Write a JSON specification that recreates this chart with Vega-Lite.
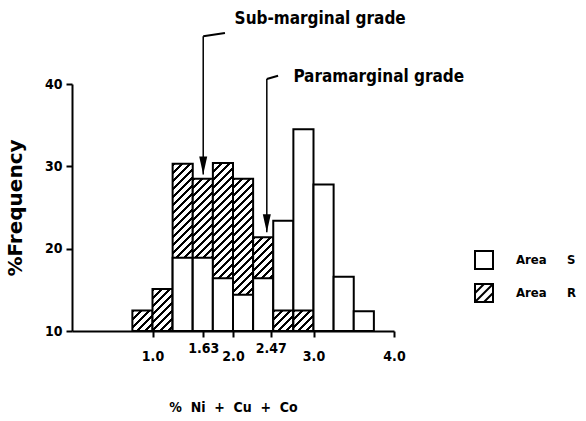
{
  "$schema": "https://vega.github.io/schema/vega-lite/v6.json",
  "width": 322,
  "height": 247,
  "autosize": {"type": "none"},
  "padding": {"left": 72, "top": 84, "right": 192, "bottom": 90},
  "background": "white",
  "params": [
    {
      "name": "hatchStops",
      "value": [
        {"offset": 0, "color": "#000"}, {"offset": 0.015, "color": "#000"}, {"offset": 0.015, "color": "#fff"}, {"offset": 0.04, "color": "#fff"},
        {"offset": 0.04, "color": "#000"}, {"offset": 0.055, "color": "#000"}, {"offset": 0.055, "color": "#fff"}, {"offset": 0.08, "color": "#fff"},
        {"offset": 0.08, "color": "#000"}, {"offset": 0.095, "color": "#000"}, {"offset": 0.095, "color": "#fff"}, {"offset": 0.12, "color": "#fff"},
        {"offset": 0.12, "color": "#000"}, {"offset": 0.135, "color": "#000"}, {"offset": 0.135, "color": "#fff"}, {"offset": 0.16, "color": "#fff"},
        {"offset": 0.16, "color": "#000"}, {"offset": 0.175, "color": "#000"}, {"offset": 0.175, "color": "#fff"}, {"offset": 0.2, "color": "#fff"},
        {"offset": 0.2, "color": "#000"}, {"offset": 0.215, "color": "#000"}, {"offset": 0.215, "color": "#fff"}, {"offset": 0.24, "color": "#fff"},
        {"offset": 0.24, "color": "#000"}, {"offset": 0.255, "color": "#000"}, {"offset": 0.255, "color": "#fff"}, {"offset": 0.28, "color": "#fff"},
        {"offset": 0.28, "color": "#000"}, {"offset": 0.295, "color": "#000"}, {"offset": 0.295, "color": "#fff"}, {"offset": 0.32, "color": "#fff"},
        {"offset": 0.32, "color": "#000"}, {"offset": 0.335, "color": "#000"}, {"offset": 0.335, "color": "#fff"}, {"offset": 0.36, "color": "#fff"},
        {"offset": 0.36, "color": "#000"}, {"offset": 0.375, "color": "#000"}, {"offset": 0.375, "color": "#fff"}, {"offset": 0.4, "color": "#fff"},
        {"offset": 0.4, "color": "#000"}, {"offset": 0.415, "color": "#000"}, {"offset": 0.415, "color": "#fff"}, {"offset": 0.44, "color": "#fff"},
        {"offset": 0.44, "color": "#000"}, {"offset": 0.455, "color": "#000"}, {"offset": 0.455, "color": "#fff"}, {"offset": 0.48, "color": "#fff"},
        {"offset": 0.48, "color": "#000"}, {"offset": 0.495, "color": "#000"}, {"offset": 0.495, "color": "#fff"}, {"offset": 0.52, "color": "#fff"},
        {"offset": 0.52, "color": "#000"}, {"offset": 0.535, "color": "#000"}, {"offset": 0.535, "color": "#fff"}, {"offset": 0.56, "color": "#fff"},
        {"offset": 0.56, "color": "#000"}, {"offset": 0.575, "color": "#000"}, {"offset": 0.575, "color": "#fff"}, {"offset": 0.6, "color": "#fff"},
        {"offset": 0.6, "color": "#000"}, {"offset": 0.615, "color": "#000"}, {"offset": 0.615, "color": "#fff"}, {"offset": 0.64, "color": "#fff"},
        {"offset": 0.64, "color": "#000"}, {"offset": 0.655, "color": "#000"}, {"offset": 0.655, "color": "#fff"}, {"offset": 0.68, "color": "#fff"},
        {"offset": 0.68, "color": "#000"}, {"offset": 0.695, "color": "#000"}, {"offset": 0.695, "color": "#fff"}, {"offset": 0.72, "color": "#fff"},
        {"offset": 0.72, "color": "#000"}, {"offset": 0.735, "color": "#000"}, {"offset": 0.735, "color": "#fff"}, {"offset": 0.76, "color": "#fff"},
        {"offset": 0.76, "color": "#000"}, {"offset": 0.775, "color": "#000"}, {"offset": 0.775, "color": "#fff"}, {"offset": 0.8, "color": "#fff"},
        {"offset": 0.8, "color": "#000"}, {"offset": 0.815, "color": "#000"}, {"offset": 0.815, "color": "#fff"}, {"offset": 0.84, "color": "#fff"},
        {"offset": 0.84, "color": "#000"}, {"offset": 0.855, "color": "#000"}, {"offset": 0.855, "color": "#fff"}, {"offset": 0.88, "color": "#fff"},
        {"offset": 0.88, "color": "#000"}, {"offset": 0.895, "color": "#000"}, {"offset": 0.895, "color": "#fff"}, {"offset": 0.92, "color": "#fff"},
        {"offset": 0.92, "color": "#000"}, {"offset": 0.935, "color": "#000"}, {"offset": 0.935, "color": "#fff"}, {"offset": 0.96, "color": "#fff"},
        {"offset": 0.96, "color": "#000"}, {"offset": 0.975, "color": "#000"}, {"offset": 0.975, "color": "#fff"}, {"offset": 1, "color": "#fff"}
      ]
    }
  ],
  "datasets": {
    "bars": [
      {"x_start": 0.75, "x_end": 1.0, "area": "R", "freq": 12.5},
      {"x_start": 1.0, "x_end": 1.25, "area": "R", "freq": 15.1},
      {"x_start": 1.25, "x_end": 1.5, "area": "R", "freq": 30.3},
      {"x_start": 1.25, "x_end": 1.5, "area": "S", "freq": 18.9},
      {"x_start": 1.5, "x_end": 1.75, "area": "R", "freq": 28.5},
      {"x_start": 1.5, "x_end": 1.75, "area": "S", "freq": 18.9},
      {"x_start": 1.75, "x_end": 2.0, "area": "R", "freq": 30.4},
      {"x_start": 1.75, "x_end": 2.0, "area": "S", "freq": 16.4},
      {"x_start": 2.0, "x_end": 2.25, "area": "R", "freq": 28.5},
      {"x_start": 2.0, "x_end": 2.25, "area": "S", "freq": 14.4},
      {"x_start": 2.25, "x_end": 2.5, "area": "R", "freq": 21.4},
      {"x_start": 2.25, "x_end": 2.5, "area": "S", "freq": 16.4},
      {"x_start": 2.5, "x_end": 2.75, "area": "S", "freq": 23.4},
      {"x_start": 2.5, "x_end": 2.75, "area": "R", "freq": 12.5},
      {"x_start": 2.75, "x_end": 3.0, "area": "S", "freq": 34.5},
      {"x_start": 2.75, "x_end": 3.0, "area": "R", "freq": 12.5},
      {"x_start": 3.0, "x_end": 3.25, "area": "S", "freq": 27.8},
      {"x_start": 3.25, "x_end": 3.5, "area": "S", "freq": 16.6},
      {"x_start": 3.5, "x_end": 3.75, "area": "S", "freq": 12.4}
    ],
    "notes": [
      {"label": "Sub-marginal grade", "grade": 1.63, "tip": 29.0, "top": 45.8, "hookX": 1.9, "hookY": 46.2, "textX": 2.02, "textY": 47.9},
      {"label": "Paramarginal grade", "grade": 2.42, "tip": 22.0, "top": 40.6, "hookX": 2.56, "hookY": 41.0, "textX": 2.75, "textY": 40.9}
    ]
  },
  "layer": [
    {
      "data": {"name": "bars"},
      "mark": {"type": "rect", "stroke": "black", "strokeWidth": 2, "strokeJoin": "miter"},
      "encoding": {
        "x": {
          "field": "x_start", "type": "quantitative",
          "scale": {"domain": [0, 4], "nice": false, "zero": false},
          "title": "%\u00a0\u00a0Ni\u00a0\u00a0+\u00a0\u00a0Cu\u00a0\u00a0+\u00a0\u00a0Co",
          "axis": {
            "values": [1, 1.63, 2, 2.47, 3, 4],
            "labelExpr": "datum.value == 1.63 || datum.value == 2.47 ? format(datum.value, '.2f') : format(datum.value, '.1f')",
            "labelFont": "DejaVu Sans Condensed",
            "labelFontWeight": "bold", "labelFontSize": 14, "labelColor": "black",
            "labelPadding": {"condition": {"test": "datum.value == 1.63 || datum.value == 2.47", "value": 4}, "value": 12},
            "labelFlush": false, "labelOverlap": false,
            "tickSize": 6, "tickWidth": 2, "tickColor": "black",
            "domainColor": "black", "domainWidth": 2, "grid": false,
            "titleFont": "DejaVu Sans Condensed",
            "titleFontWeight": "bold", "titleFontSize": 14, "titleColor": "black",
            "titleY": 80, "titleBaseline": "alphabetic"
          }
        },
        "x2": {"field": "x_end"},
        "y": {
          "field": "freq", "type": "quantitative",
          "scale": {"domain": [10, 40], "nice": false, "zero": false},
          "title": "%Frequency",
          "axis": {
            "values": [10, 20, 30, 40],
            "labelFont": "DejaVu Sans Condensed",
            "labelFontWeight": "bold", "labelFontSize": 14, "labelColor": "black",
            "labelPadding": 4, "labelFlush": false,
            "tickSize": 6, "tickWidth": 2, "tickColor": "black",
            "domainColor": "black", "domainWidth": 2, "grid": false,
            "titleFont": "DejaVu Sans", "titleFontWeight": "bold", "titleFontSize": 20, "titleColor": "black",
            "titleX": -51, "titleBaseline": "alphabetic"
          }
        },
        "y2": {"datum": 10},
        "fill": {
          "value": {
            "expr": "datum.area === 'R' ? {gradient: 'linear', x1: 0, y1: 0, x2: 200 * (scale('x', datum.x_end) - scale('x', datum.x_start)) / (pow(scale('x', datum.x_end) - scale('x', datum.x_start), 2) + pow(scale('y', 10) - scale('y', datum.freq), 2)), y2: 200 * (scale('y', 10) - scale('y', datum.freq)) / (pow(scale('x', datum.x_end) - scale('x', datum.x_start), 2) + pow(scale('y', 10) - scale('y', datum.freq), 2)), stops: hatchStops} : 'white'"
          }
        }
      }
    },
    {
      "data": {"name": "bars"},
      "mark": {"type": "point", "filled": false, "color": "black", "strokeWidth": 2, "opacity": 0},
      "encoding": {
        "x": {"field": "x_start", "type": "quantitative", "scale": {"domain": [0, 4], "nice": false, "zero": false}, "title": "%\u00a0\u00a0Ni\u00a0\u00a0+\u00a0\u00a0Cu\u00a0\u00a0+\u00a0\u00a0Co"},
        "y": {"field": "freq", "type": "quantitative", "scale": {"domain": [10, 40], "nice": false, "zero": false}, "title": "%Frequency"},
        "shape": {
          "field": "area", "type": "nominal",
          "scale": {"domain": ["S", "R"], "range": ["square", "M-1,-1H1V1H-1Z M-1,1L1,-1 M-1,0L0,-1 M0,1L1,0"]},
          "legend": {
            "title": null, "orient": "none", "legendX": 402, "legendY": 166, "padding": 0,
            "labelExpr": "'Area\u00a0\u00a0\u00a0\u00a0\u00a0' + datum.label",
            "labelFont": "DejaVu Sans Condensed",
            "labelFontWeight": "bold", "labelFontSize": 13, "labelColor": "black",
            "labelOffset": 22, "rowPadding": 7,
            "symbolSize": 324, "symbolStrokeWidth": 2, "symbolStrokeColor": "black",
            "symbolFillColor": "white", "symbolOpacity": 1
          }
        }
      }
    },
    {
      "data": {"name": "notes"},
      "mark": {"type": "rule", "stroke": "black", "strokeWidth": 1.5},
      "encoding": {
        "x": {"field": "grade", "type": "quantitative", "scale": {"domain": [0, 4], "nice": false, "zero": false}, "title": "%\u00a0\u00a0Ni\u00a0\u00a0+\u00a0\u00a0Cu\u00a0\u00a0+\u00a0\u00a0Co"},
        "y": {"field": "tip", "type": "quantitative", "scale": {"domain": [10, 40], "nice": false, "zero": false}, "title": "%Frequency"},
        "y2": {"field": "top"}
      }
    },
    {
      "data": {"name": "notes"},
      "mark": {"type": "rule", "stroke": "black", "strokeWidth": 2},
      "encoding": {
        "x": {"field": "grade", "type": "quantitative", "scale": {"domain": [0, 4], "nice": false, "zero": false}, "title": "%\u00a0\u00a0Ni\u00a0\u00a0+\u00a0\u00a0Cu\u00a0\u00a0+\u00a0\u00a0Co"},
        "y": {"field": "top", "type": "quantitative", "scale": {"domain": [10, 40], "nice": false, "zero": false}, "title": "%Frequency"},
        "x2": {"field": "hookX"},
        "y2": {"field": "hookY"}
      }
    },
    {
      "data": {"name": "notes"},
      "mark": {"type": "point", "shape": "M-0.4,-1.8L0.4,-1.8L0,0Z", "size": 400, "filled": true, "color": "black", "opacity": 1},
      "encoding": {
        "x": {"field": "grade", "type": "quantitative", "scale": {"domain": [0, 4], "nice": false, "zero": false}, "title": "%\u00a0\u00a0Ni\u00a0\u00a0+\u00a0\u00a0Cu\u00a0\u00a0+\u00a0\u00a0Co"},
        "y": {"field": "tip", "type": "quantitative", "scale": {"domain": [10, 40], "nice": false, "zero": false}, "title": "%Frequency"}
      }
    },
    {
      "data": {"name": "notes"},
      "mark": {"type": "text", "align": "left", "baseline": "middle", "font": "DejaVu Sans Condensed", "fontWeight": "bold", "fontSize": 17, "color": "black"},
      "encoding": {
        "x": {"field": "textX", "type": "quantitative", "scale": {"domain": [0, 4], "nice": false, "zero": false}, "title": "%\u00a0\u00a0Ni\u00a0\u00a0+\u00a0\u00a0Cu\u00a0\u00a0+\u00a0\u00a0Co"},
        "y": {"field": "textY", "type": "quantitative", "scale": {"domain": [10, 40], "nice": false, "zero": false}, "title": "%Frequency"},
        "text": {"field": "label"}
      }
    }
  ],
  "config": {"view": {"stroke": null}}
}
